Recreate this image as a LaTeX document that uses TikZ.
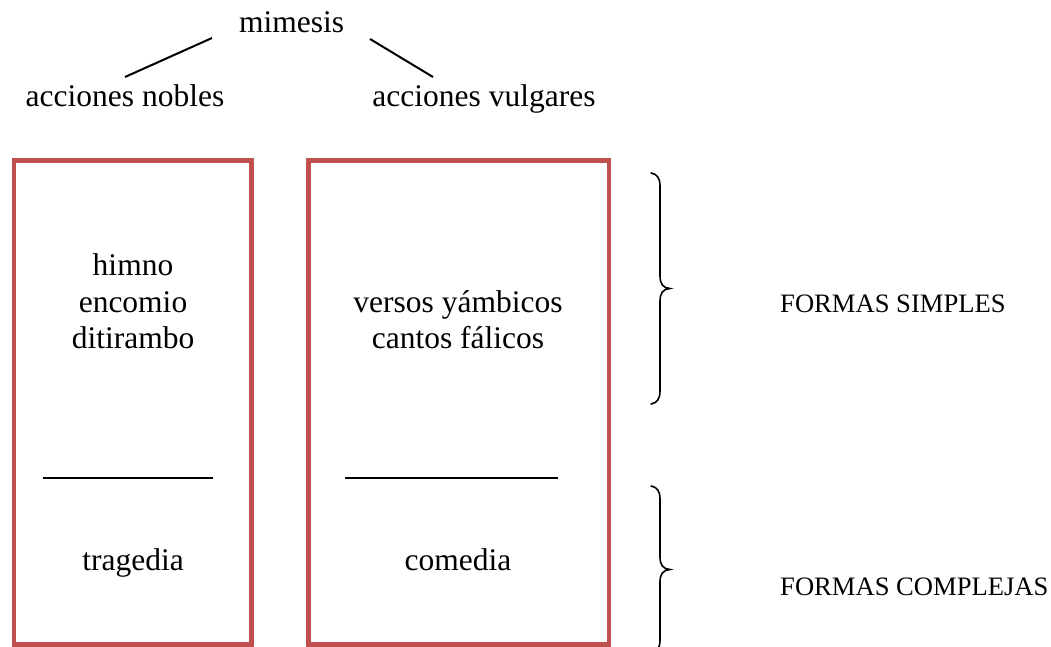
\documentclass[tikz,border=0pt]{standalone}
\usepackage{fontspec}
\setmainfont{Liberation Serif}
\definecolor{boxred}{HTML}{C0504D}
\begin{document}
\begin{tikzpicture}[x=1pt,y=-1pt,
  lbl/.style={inner sep=0pt,anchor=base,font=\fontsize{31.5}{37}\selectfont},
  side/.style={inner sep=0pt,anchor=base west,font=\fontsize{26.6}{31}\selectfont},
  frame/.style={draw=boxred,line width=4.7pt},
  rule/.style={draw=black,line width=2pt},
  brace/.style={draw=black,line width=1.6pt,line cap=round}]
\useasboundingbox (0,0) rectangle (1051,647);

% heading and its two branches
\node[lbl] (mim) at (291.5,33) {mimesis};
\node[lbl] (nob) at (125,107) {acciones nobles};
\node[lbl] (vul) at (484,107) {acciones vulgares};
\coordinate (mimL) at (212,38);
\coordinate (nobT) at (125,77);
\coordinate (mimR) at (370,39);
\coordinate (vulT) at (433,77);
\draw[rule] (mimL) -- (nobT);
\draw[rule] (mimR) -- (vulT);

% the two columns
\draw[frame] (14,160.5) rectangle (251.5,644.5);
\draw[frame] (308.3,160.5) rectangle (609,644.5);

% noble forms
\node[lbl] (himno) at (133,275) {himno};
\node[lbl] (encomio) at (133,312) {encomio};
\node[lbl] (diti) at (133,348) {ditirambo};
\coordinate (divLa) at (43,478);
\coordinate (divLb) at (213,478);
\draw[rule] (divLa) -- (divLb);
\node[lbl] (trag) at (133,570) {tragedia};

% vulgar forms
\node[lbl] (versos) at (458,312) {versos yámbicos};
\node[lbl] (cantos) at (458,348) {cantos fálicos};
\coordinate (divRa) at (345,478);
\coordinate (divRb) at (558,478);
\draw[rule] (divRa) -- (divRb);
\node[lbl] (com) at (458,570) {comedia};

% braces
\draw[brace] (651,173) .. controls (657,174) and (660,178) .. (660,186)
  -- (660,276) .. controls (660,284) and (663,288) .. (670,288.5)
  .. controls (663,289) and (660,293) .. (660,301)
  -- (660,391) .. controls (660,399) and (657,403) .. (651,404);
\draw[brace] (651,486) .. controls (657,487) and (660,491) .. (660,499)
  -- (660,557) .. controls (660,565) and (663,569) .. (670,569.5)
  .. controls (663,570) and (660,574) .. (660,582)
  -- (660,640) .. controls (660,648) and (657,652) .. (651,653);

\node[side] (simples) at (780,312) {FORMAS SIMPLES};
\node[side] (complejas) at (780,595) {FORMAS COMPLEJAS};
\end{tikzpicture}
\end{document}
